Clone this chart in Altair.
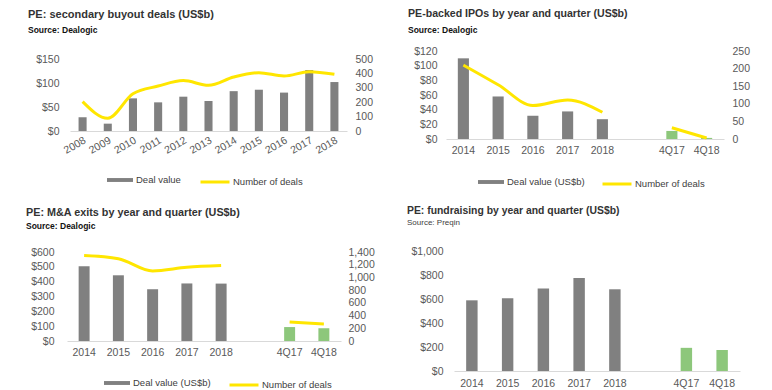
import altair as alt
import pandas as pd

FONT = "Liberation Sans"
GREY_BAR = "#808080"
GREEN_BAR = "#8dc77b"
YELLOW = "#ffe600"
LABEL = "#595959"

# ---- data ----
sbo_periods = ["2008", "2009", "2010", "2011", "2012", "2013",
               "2014", "2015", "2016", "2017", "2018"]
sbo_value = [28.5, 15.3, 68, 59.7, 71.5, 62.5, 83, 86, 80, 127, 102]
sbo_count = [204, 88, 258, 312, 350, 317, 375, 405, 382, 412, 394]

qtr_periods = ["2014", "2015", "2016", "2017", "2018", " ", "4Q17", "4Q18"]

ipo_value = [110, 58, 31.7, 37.6, 27, None, 11, 1.5]
ipo_count = [210, 154, 95, 111, 76, None, 32, 3]

ma_value = [504, 443, 349, 388, 387, None, 94, 86]
ma_count = [1345, 1295, 1102, 1160, 1186, None, 298, 269]

fund_value = [589, 607, 688, 775, 681, None, 193, 175]


def frame(periods, values, counts, bar_label):
    rows = []
    for i, p in enumerate(periods):
        v = values[i]
        if v is None:
            continue
        quarter = p.startswith("4Q")
        rows.append({
            "period": p,
            "value": v,
            "count": counts[i] if counts else None,
            "kind": "Quarter" if quarter else bar_label,
            "segment": "q" if quarter else "y",
            "series": "Number of deals",
        })
    return pd.DataFrame(rows)


def panel(periods, values, counts, *, title, subtitle, sub_bold, bar_label,
          vmax, vstep, cmax, cstep, width, height, xrange, yrange,
          left_pad, right_pad, label_angle, title_dx, title_offset, title_pad,
          sub_size, title_size=11, x_pad=6, bar_leg=None, line_leg=None):
    df = frame(periods, values, counts, bar_label)
    if label_angle:
        xaxis = alt.Axis(title=None, labelAngle=label_angle, labelAlign="right",
                         labelBaseline="top", labelPadding=4, ticks=False,
                         domainColor="#d9d9d9", labelColor=LABEL,
                         labelFontSize=10.5, labelFont=FONT)
    else:
        xaxis = alt.Axis(title=None, labelAngle=0, labelBaseline="top",
                         labelPadding=x_pad, ticks=False, domainColor="#d9d9d9",
                         labelColor=LABEL, labelFontSize=10.5, labelFont=FONT)
    x = alt.X("period:N", sort=periods,
              scale=alt.Scale(domain=periods, range=xrange,
                              paddingInner=0.68, paddingOuter=0.34),
              axis=xaxis)
    y_left = alt.Y("value:Q",
                   scale=alt.Scale(domain=[0, vmax], range=yrange, nice=False),
                   axis=alt.Axis(title=None, values=list(range(0, vmax + 1, vstep)),
                                 format="$,d", labelPadding=left_pad, domain=False,
                                 ticks=False, grid=False, labelColor=LABEL,
                                 labelFontSize=10.5, labelFont=FONT))
    if bar_leg:
        bleg = alt.Legend(title=None, orient="none", legendX=bar_leg[0],
                          legendY=bar_leg[1], values=[bar_label],
                          symbolType="M-1,-0.15H1V0.15H-1Z", symbolSize=676,
                          symbolStrokeWidth=0, labelFontSize=9.5, labelFont=FONT,
                          labelColor="#404040", padding=0, labelOffset=3)
    else:
        bleg = None
    bars = alt.Chart(df).mark_bar().encode(
        x=x, y=y_left,
        color=alt.Color("kind:N",
                        scale=alt.Scale(domain=[bar_label, "Quarter"],
                                        range=[GREY_BAR, GREEN_BAR]),
                        legend=bleg),
    )
    t = alt.TitleParams(text=title, subtitle=subtitle, anchor="start",
                        frame="group", dx=title_dx, offset=title_offset,
                        subtitlePadding=title_pad, font=FONT, fontSize=title_size,
                        fontWeight="bold", color="#333333", subtitleFont=FONT,
                        subtitleFontSize=sub_size,
                        subtitleFontWeight="bold" if sub_bold else "normal",
                        subtitleColor="#111111" if sub_bold else "#404040")
    if counts is None:
        return bars.properties(width=width, height=height, title=t)

    lleg = alt.Legend(title=None, orient="none", legendX=line_leg[0],
                      legendY=line_leg[1], symbolType="stroke", symbolSize=841,
                      symbolStrokeWidth=3, labelFontSize=9.5, labelFont=FONT,
                      labelColor="#404040", padding=0, labelOffset=2)
    line = alt.Chart(df).mark_line(interpolate="monotone", strokeWidth=3).encode(
        x=x,
        y=alt.Y("count:Q",
                scale=alt.Scale(domain=[0, cmax], range=yrange, nice=False),
                axis=alt.Axis(title=None, orient="right",
                              values=list(range(0, cmax + 1, cstep)), format=",d",
                              labelPadding=right_pad, domain=False, ticks=False,
                              grid=False, labelColor=LABEL, labelFontSize=10.5,
                              labelFont=FONT)),
        stroke=alt.Stroke("series:N",
                          scale=alt.Scale(domain=["Number of deals"], range=[YELLOW]),
                          legend=lleg),
        detail="segment:N",
    )
    return alt.layer(bars, line).resolve_scale(y="independent").properties(
        width=width, height=height, title=t)


p1 = panel(sbo_periods, sbo_value, sbo_count,
           title="PE: secondary buyout deals (US$b)", subtitle="Source: Dealogic",
           sub_bold=True, bar_label="Deal value", vmax=150, vstep=50,
           cmax=500, cstep=100, width=280, height=80, xrange=[3, 280],
           yrange=[80, 8], left_pad=8, right_pad=8, label_angle=-30,
           title_dx=-39, title_offset=17, title_pad=6, sub_size=8.5,
           bar_leg=(40, 116), line_leg=(132, 115))

p2 = panel(qtr_periods, ipo_value, ipo_count,
           title="PE-backed IPOs by year and quarter (US$b)",
           subtitle="Source: Dealogic", sub_bold=True,
           bar_label="Deal value (US$b)", vmax=120, vstep=20, cmax=250, cstep=50,
           width=278, height=88, xrange=[0, 278], yrange=[88, 0], left_pad=9,
           right_pad=8, label_angle=0, title_dx=-38, title_offset=12,
           title_pad=6, sub_size=8.5, title_size=10.6,
           bar_leg=(32, 118), line_leg=(155, 117))

p3 = panel(qtr_periods, ma_value, ma_count,
           title="PE: M&A exits by year and quarter (US$b)",
           subtitle="Source: Dealogic", sub_bold=True,
           bar_label="Deal value (US$b)", vmax=600, vstep=100, cmax=1400,
           cstep=200, width=274, height=90, xrange=[0, 274], yrange=[90, 1],
           left_pad=13, right_pad=7, label_angle=0, title_dx=-41,
           title_offset=17, title_pad=4, sub_size=8.5, title_size=10.8,
           bar_leg=(37, 119), line_leg=(161, 118))

p4 = panel(qtr_periods, fund_value, None,
           title="PE: fundraising by year and quarter (US$b)",
           subtitle="Source: Preqin", sub_bold=False,
           bar_label="Deal value (US$b)", vmax=1000, vstep=200, cmax=0, cstep=1,
           width=294, height=120, xrange=[8, 294], yrange=[120, 0], left_pad=3,
           right_pad=8, label_angle=0, title_dx=-39, title_offset=19,
           title_pad=3, sub_size=8, title_size=10.4, x_pad=7)

chart = alt.concat(p1, p2, p3, p4, columns=2,
                   spacing={"row": 112, "column": 99},
                   bounds="flush", align="each").resolve_scale(
    color="independent", stroke="independent"
).resolve_legend(
    color="independent", stroke="independent"
).properties(
    autosize=alt.AutoSizeParams(type="none"),
    padding={"left": 59, "top": 43, "right": 690, "bottom": 345},
).configure_view(stroke=None).configure_axis(grid=False)

chart.save("out.html", embed_options={"renderer": "svg", "actions": False})
